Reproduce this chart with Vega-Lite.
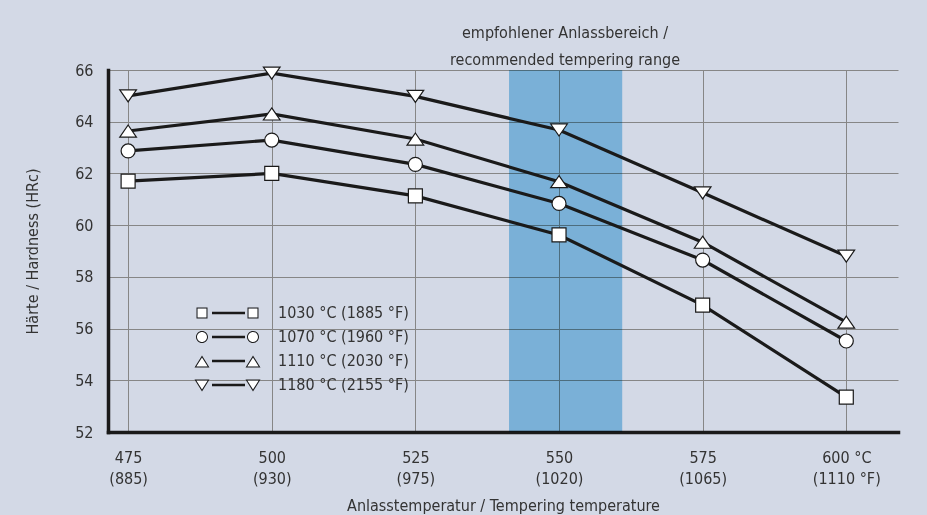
{
  "$schema": "https://vega.github.io/schema/vega-lite/v6.json",
  "autosize": "none",
  "width": 790,
  "height": 362,
  "padding": {"left": 108, "top": 70, "right": 29, "bottom": 83},
  "background": "#d3d9e6",
  "config": {
    "font": "DejaVu Sans Condensed, serif",
    "view": {"stroke": null},
    "axis": {"labelFont": "DejaVu Sans Condensed, serif", "titleFont": "DejaVu Sans Condensed, serif", "labelColor": "#333333", "titleColor": "#333333", "labelFontSize": 16, "titleFontSize": 16, "titleFontWeight": "normal", "gridColor": "#868686", "gridWidth": 1, "gridOpacity": 1, "domainColor": "#1a1a1a", "domainWidth": 3.5, "domainCap": "square", "ticks": false},
    "legend": {"title": null, "orient": "none", "legendX": 87, "legendY": 235, "padding": 0, "symbolSize": 4, "symbolOffset": 25, "labelOffset": 42, "rowPadding": 8, "symbolStrokeWidth": 0, "symbolOpacity": 1, "labelFont": "DejaVu Sans Condensed, serif", "labelFontSize": 16, "labelColor": "#333333"}
  },
  "title": {
    "text": ["empfohlener Anlassbereich /", "recommended tempering range"],
    "anchor": "middle",
    "frame": "group",
    "dx": 62,
    "dy": 22,
    "baseline": "bottom",
    "lineHeight": 27,
    "offset": 0,
    "font": "DejaVu Sans Condensed, serif",
    "fontSize": 16,
    "fontWeight": "normal",
    "color": "#333333"
  },
  "datasets": {
    "hardness": [
      {"series": "1030 °C (1885 °F)", "temp": 475, "hrc": 61.7},
      {"series": "1030 °C (1885 °F)", "temp": 500, "hrc": 62.0},
      {"series": "1030 °C (1885 °F)", "temp": 525, "hrc": 61.13},
      {"series": "1030 °C (1885 °F)", "temp": 550, "hrc": 59.62},
      {"series": "1030 °C (1885 °F)", "temp": 575, "hrc": 56.91},
      {"series": "1030 °C (1885 °F)", "temp": 600, "hrc": 53.35},
      {"series": "1070 °C (1960 °F)", "temp": 475, "hrc": 62.87},
      {"series": "1070 °C (1960 °F)", "temp": 500, "hrc": 63.29},
      {"series": "1070 °C (1960 °F)", "temp": 525, "hrc": 62.35},
      {"series": "1070 °C (1960 °F)", "temp": 550, "hrc": 60.84},
      {"series": "1070 °C (1960 °F)", "temp": 575, "hrc": 58.65},
      {"series": "1070 °C (1960 °F)", "temp": 600, "hrc": 55.52},
      {"series": "1110 °C (2030 °F)", "temp": 475, "hrc": 63.64},
      {"series": "1110 °C (2030 °F)", "temp": 500, "hrc": 64.3},
      {"series": "1110 °C (2030 °F)", "temp": 525, "hrc": 63.33},
      {"series": "1110 °C (2030 °F)", "temp": 550, "hrc": 61.68},
      {"series": "1110 °C (2030 °F)", "temp": 575, "hrc": 59.34},
      {"series": "1110 °C (2030 °F)", "temp": 600, "hrc": 56.25},
      {"series": "1180 °C (2155 °F)", "temp": 475, "hrc": 65.0},
      {"series": "1180 °C (2155 °F)", "temp": 500, "hrc": 65.88},
      {"series": "1180 °C (2155 °F)", "temp": 525, "hrc": 64.98},
      {"series": "1180 °C (2155 °F)", "temp": 550, "hrc": 63.68},
      {"series": "1180 °C (2155 °F)", "temp": 575, "hrc": 61.25},
      {"series": "1180 °C (2155 °F)", "temp": 600, "hrc": 58.8}
    ],
    "range": [{"from": 541.3, "to": 561}],
    "legendRows": []
  },
  "resolve": {"scale": {"shape": "independent"}, "legend": {"shape": "independent"}},
  "layer": [
    {
      "data": {"name": "range"},
      "mark": {"type": "rect", "color": "#93cfef", "blend": "multiply"},
      "encoding": {
        "x": {"field": "from", "type": "quantitative", "scale": {"domain": [471.5, 609], "nice": false, "zero": false},
          "axis": {"values": [475, 500, 525, 550, 575, 600], "grid": true, "labelPadding": 17, "labelBaseline": "top", "labelLineHeight": 21,
            "labelExpr": "datum.value == 475 ? ['475', '(885)'] : datum.value == 500 ? ['500', '(930)'] : datum.value == 525 ? ['525', '(975)'] : datum.value == 550 ? ['550', '(1020)'] : datum.value == 575 ? ['575', '(1065)'] : ['600 °C', '(1110 °F)']",
            "title": "Anlasstemperatur / Tempering temperature", "titlePadding": 11}},
        "x2": {"field": "to"},
        "y": {"datum": 52, "type": "quantitative", "scale": {"domain": [52, 66], "nice": false, "zero": false},
          "axis": {"values": [52, 53, 54, 55, 56, 57, 58, 59, 60, 61, 62, 63, 64, 65, 66], "grid": true, "labelPadding": 15,
            "labelExpr": "datum.value % 2 == 0 ? datum.label : ''", "title": "Härte / Hardness (HRc)", "titlePadding": 34}},
        "y2": {"datum": 66}
      }
    },
    {
      "data": {"name": "hardness"},
      "mark": {"type": "line", "color": "#1a1a1a", "strokeWidth": 3.2},
      "encoding": {
        "x": {"field": "temp", "type": "quantitative"},
        "y": {"field": "hrc", "type": "quantitative"},
        "detail": {"field": "series"}
      }
    },
    {
      "data": {"name": "hardness"},
      "mark": {"type": "point", "filled": true, "fill": "white", "stroke": "#1a1a1a", "strokeWidth": 1.2, "opacity": 1, "size": 196},
      "encoding": {
        "x": {"field": "temp", "type": "quantitative"},
        "y": {"field": "hrc", "type": "quantitative"},
        "shape": {"field": "series", "type": "nominal",
          "scale": {"domain": ["1030 °C (1885 °F)", "1070 °C (1960 °F)", "1110 °C (2030 °F)", "1180 °C (2155 °F)"],
            "range": ["square", "circle", "M0,-0.86L1.19,0.86L-1.19,0.86Z", "M0,0.86L1.19,-0.86L-1.19,-0.86Z"]},
          "legend": null
        }
      }
    },
    {
      "data": {"name": "legendRows"},
      "mark": {"type": "point", "filled": true, "color": "white", "opacity": 1},
      "encoding": {
        "shape": {"field": "series", "type": "nominal",
          "scale": {"domain": ["1030 °C (1885 °F)", "1070 °C (1960 °F)", "1110 °C (2030 °F)", "1180 °C (2155 °F)"],
            "range": [
              "M-30.5,-4.5H-21.5V4.5H-30.5Z M20.5,-4.5H29.5V4.5H20.5Z",
              "M-21,0A5,5 0 1,1 -31,0A5,5 0 1,1 -21,0Z M30,0A5,5 0 1,1 20,0A5,5 0 1,1 30,0Z",
              "M-26,-3.6L-20.3,5.5L-31.7,5.5Z M25,-3.6L30.7,5.5L19.3,5.5Z",
              "M-26,4.6L-20.3,-4.5L-31.7,-4.5Z M25,4.6L30.7,-4.5L19.3,-4.5Z"
            ]},
          "legend": {"symbolFillColor": "white"}
        }
      }
    },
    {
      "data": {"name": "legendRows"},
      "mark": {"type": "point", "filled": true, "color": "#1a1a1a", "opacity": 1},
      "encoding": {
        "shape": {"field": "series", "type": "nominal",
          "scale": {"domain": ["1030 °C (1885 °F)", "1070 °C (1960 °F)", "1110 °C (2030 °F)", "1180 °C (2155 °F)"],
            "range": [
              "M-31.5,-5.5H-20.5V5.5H-31.5Z M-30.5,-4.5V4.5H-21.5V-4.5Z M-16,-1.2H17V1.2H-16Z M19.5,-5.5H30.5V5.5H19.5Z M20.5,-4.5V4.5H29.5V-4.5Z",
              "M-20,0A6,6 0 1,1 -32,0A6,6 0 1,1 -20,0Z M-21,0A5,5 0 1,0 -31,0A5,5 0 1,0 -21,0Z M-16,-1.2H17V1.2H-16Z M31,0A6,6 0 1,1 19,0A6,6 0 1,1 31,0Z M30,0A5,5 0 1,0 20,0A5,5 0 1,0 30,0Z",
              "M-26,-5.5L-18.5,6.5L-33.5,6.5Z M-26,-3.6L-31.7,5.5L-20.3,5.5Z M-16,-1.2H17V1.2H-16Z M25,-5.5L32.5,6.5L17.5,6.5Z M25,-3.6L19.3,5.5L30.7,5.5Z",
              "M-26,6.5L-33.5,-5.5L-18.5,-5.5Z M-26,4.6L-20.3,-4.5L-31.7,-4.5Z M-16,-1.2H17V1.2H-16Z M25,6.5L17.5,-5.5L32.5,-5.5Z M25,4.6L30.7,-4.5L19.3,-4.5Z"
            ]},
          "legend": {"symbolFillColor": "#1a1a1a", "labelOpacity": 0}
        }
      }
    },
    {
      "mark": {"type": "rule", "color": "#1a1a1a", "strokeWidth": 3.5},
      "encoding": {"x": {"datum": 471.5}, "y": {"datum": 65.9}, "y2": {"datum": 67.1}}
    },
    {
      "mark": {"type": "point", "shape": "M0,-1.25L1,1.25L-1,1.25Z", "filled": true, "color": "#1a1a1a", "opacity": 1, "size": 169},
      "encoding": {"x": {"datum": 471.5}, "y": {"datum": 67.35}}
    }
  ]
}
